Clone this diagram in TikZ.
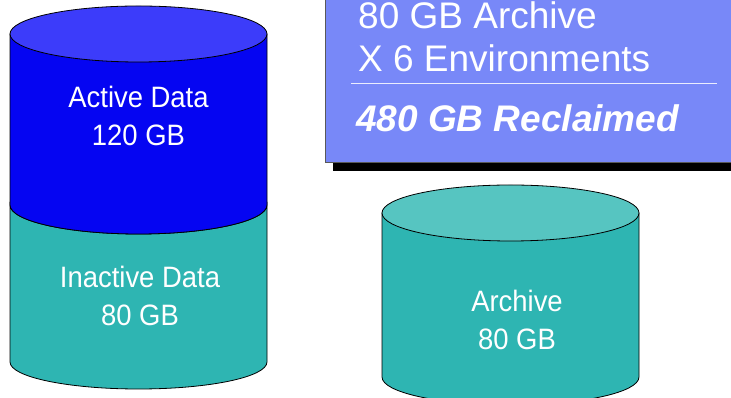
\documentclass[tikz,border=0pt]{standalone}
\usepackage{fontspec}
\setmainfont{Liberation Sans}
\newfontfamily\narrowfont[FakeStretch=0.93]{Liberation Sans}
\usepackage{tikz}
\usepackage{xcolor}
\definecolor{activeblue}{RGB}{5,5,242}
\definecolor{activetop}{RGB}{60,60,250}
\definecolor{inactiveteal}{RGB}{46,181,178}
\definecolor{archivetop}{RGB}{86,197,193}
\definecolor{notebox}{RGB}{120,136,248}
\tikzstyle{outline} = [draw=black, line width=0.8pt]

\begin{document}
\begin{tikzpicture}[
    x=1pt, y=1pt,
    disklabel/.style={text=white, align=center, font=\narrowfont\fontsize{29.5}{38}\selectfont},
    notetext/.style={text=white, anchor=base west, inner sep=0pt, font=\fontsize{37}{44}\selectfont}
  ]
  \useasboundingbox (0,0) rectangle (731,398);

  % data cylinder: inactive part, active part, lid
  \draw[outline, fill=inactiveteal] (10,193) -- (10,36) arc[start angle=180, end angle=360, x radius=128.5, y radius=27] -- (267,193) arc[start angle=0, end angle=-180, x radius=128.5, y radius=29] -- cycle;
  \draw[outline, fill=activeblue] (10,364) -- (10,193) arc[start angle=180, end angle=360, x radius=128.5, y radius=29] -- (267,364) -- cycle;
  \draw[outline, fill=activetop] (138.5,364) ellipse [x radius=128.5, y radius=28];

  % archive cylinder
  \draw[outline, fill=inactiveteal] (382,185) -- (382,21) arc[start angle=180, end angle=360, x radius=128.5, y radius=28] -- (639,185) -- cycle;
  \draw[outline, fill=archivetop] (510.5,185) ellipse [x radius=128.5, y radius=28];

  % summary box with shadow
  \fill[black] (333,227) rectangle (745,410);
  \draw[fill=notebox, draw=black!65, line width=0.8pt] (325,236) rectangle (740,410);

  \node[notetext] (arch) at (358,369.5) {80 GB Archive};
  \node[notetext] (envs) at (358,326) {X 6 Environments};
  \coordinate (ruleL) at (351,314);
  \coordinate (ruleR) at (717,314);
  \draw[white!85!notebox, line width=1pt] (ruleL) -- (ruleR);
  \node[notetext, font=\fontsize{37}{44}\selectfont\bfseries\itshape] (saved) at (356,266) {480 GB Reclaimed};

  \node[disklabel] (active) at (138.5,282) {Active Data\\120 GB};
  \node[disklabel] (inactive) at (140,102) {Inactive Data\\80 GB};
  \node[disklabel] (archive) at (517,78) {Archive\\80 GB};

\end{tikzpicture}
\end{document}
